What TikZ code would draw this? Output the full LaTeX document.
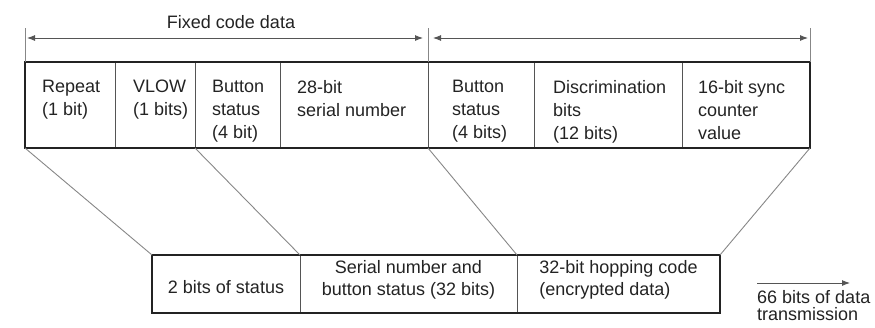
\documentclass[tikz,border=0pt]{standalone}
\usepackage{fontspec}
\setmainfont{Liberation Sans}
\usepackage{tikz}
\usetikzlibrary{arrows.meta, calc}
\definecolor{figK}{RGB}{35,35,35}
\definecolor{figD}{RGB}{85,85,85}
\definecolor{figL}{RGB}{135,135,135}

\begin{document}
\begin{tikzpicture}[x=1pt, y=-1pt,
  cell/.style={draw=figD, line width=1pt, inner sep=0pt, outer sep=0pt, anchor=north west, minimum height=86pt},
  lowcell/.style={cell, minimum height=58pt},
  lbl/.style={inner sep=0pt, anchor=north west, align=left, text=figK, font=\fontsize{18}{23}\selectfont},
  frame/.style={draw=figK, line width=2.6pt},
  slant/.style={draw=figL, line width=0.9pt},
  ext/.style={draw=figL, line width=0.6pt},
  dim/.style={draw=figD, line width=0.9pt, {Latex[length=8pt,width=6pt]}-{Latex[length=8pt,width=6pt]}}]
\useasboundingbox (0,0) rectangle (875,327);
% upper word: the fields as received
\node[cell, minimum width=90pt]  (rep)  at (25,62)  {};
\node[cell, minimum width=80pt]  (vlow) at (115,62) {};
\node[cell, minimum width=85pt]  (btn)  at (195,62) {};
\node[cell, minimum width=148pt] (ser)  at (280,62) {};
\node[cell, minimum width=106pt] (btnb) at (428,62) {};
\node[cell, minimum width=148pt] (disc) at (534,62) {};
\node[cell, minimum width=128pt] (sync) at (682,62) {};
\draw[frame] (rep.north west) rectangle (sync.south east);
\node[lbl] (rep-t)  at ([shift={(17,18)}]rep.north west)  {Repeat\\(1 bit)};
\node[lbl] (vlow-t) at ([shift={(18,18)}]vlow.north west) {VLOW\\(1 bits)};
\node[lbl] (btn-t)  at ([shift={(17,18)}]btn.north west)  {Button\\status\\(4 bit)};
\node[lbl] (ser-t)  at ([shift={(17,18)}]ser.north west)  {28-bit\\serial number};
\node[lbl] (btnb-t) at ([shift={(24,18)}]btnb.north west) {Button\\status\\(4 bits)};
\node[lbl] (disc-t) at ([shift={(19,18)}]disc.north west) {Discrimination\\bits\\(12 bits)};
\node[lbl] (sync-t) at ([shift={(16,18)}]sync.north west) {16-bit sync\\counter\\value};
% dimension lines over the word
\draw[ext] (rep.north west) -- ++(0,-34) coordinate (e1);
\draw[ext] (btnb.north west) -- ++(0,-34) coordinate (e2);
\draw[ext] (sync.north east) -- ++(0,-34) coordinate (e3);
\coordinate (dl) at (27,38);
\coordinate (dm) at (423,38);
\coordinate (dn) at (433,38);
\coordinate (dr) at (808,38);
\draw[dim] (dl) -- (dm);
\draw[dim] (dn) -- (dr);
\node[lbl, anchor=center] (fixed) at (231,22) {Fixed code data};
% lower word: as transmitted
\node[lowcell, minimum width=148pt] (stat)   at (152,255) {};
\node[lowcell, minimum width=217pt] (serbtn) at (300,255) {};
\node[lowcell, minimum width=203pt] (hop)    at (517,255) {};
\draw[frame] (stat.north west) rectangle (hop.south east);
\node[lbl, anchor=center, yshift=-3pt] (stat-t) at (stat.center) {2 bits of status};
\node[lbl, anchor=center, align=center, yshift=4pt, font=\fontsize{18}{22}\selectfont] (serbtn-t) at (serbtn.center) {Serial number and\\button status (32 bits)};
\node[lbl, anchor=center, yshift=4pt, font=\fontsize{18}{22}\selectfont] (hop-t) at (hop.center) {32-bit hopping code\\(encrypted data)};
% mapping from one word to the other
\draw[slant] (rep.south west) -- (stat.north west);
\draw[slant] (btn.south west) -- (serbtn.north west);
\draw[slant] (btnb.south west) -- (hop.north west);
\draw[slant] (sync.south east) -- (hop.north east);
% direction of transmission
\coordinate (tx1) at (757,283);
\coordinate (tx2) at (850,283);
\draw[draw=figD, line width=0.9pt, -{Latex[length=8pt,width=6pt]}] (tx1) -- (tx2);
\node[lbl, font=\fontsize{18}{17}\selectfont] (tx) at (757,290) {66 bits of data\\transmission};
\end{tikzpicture}
\end{document}
